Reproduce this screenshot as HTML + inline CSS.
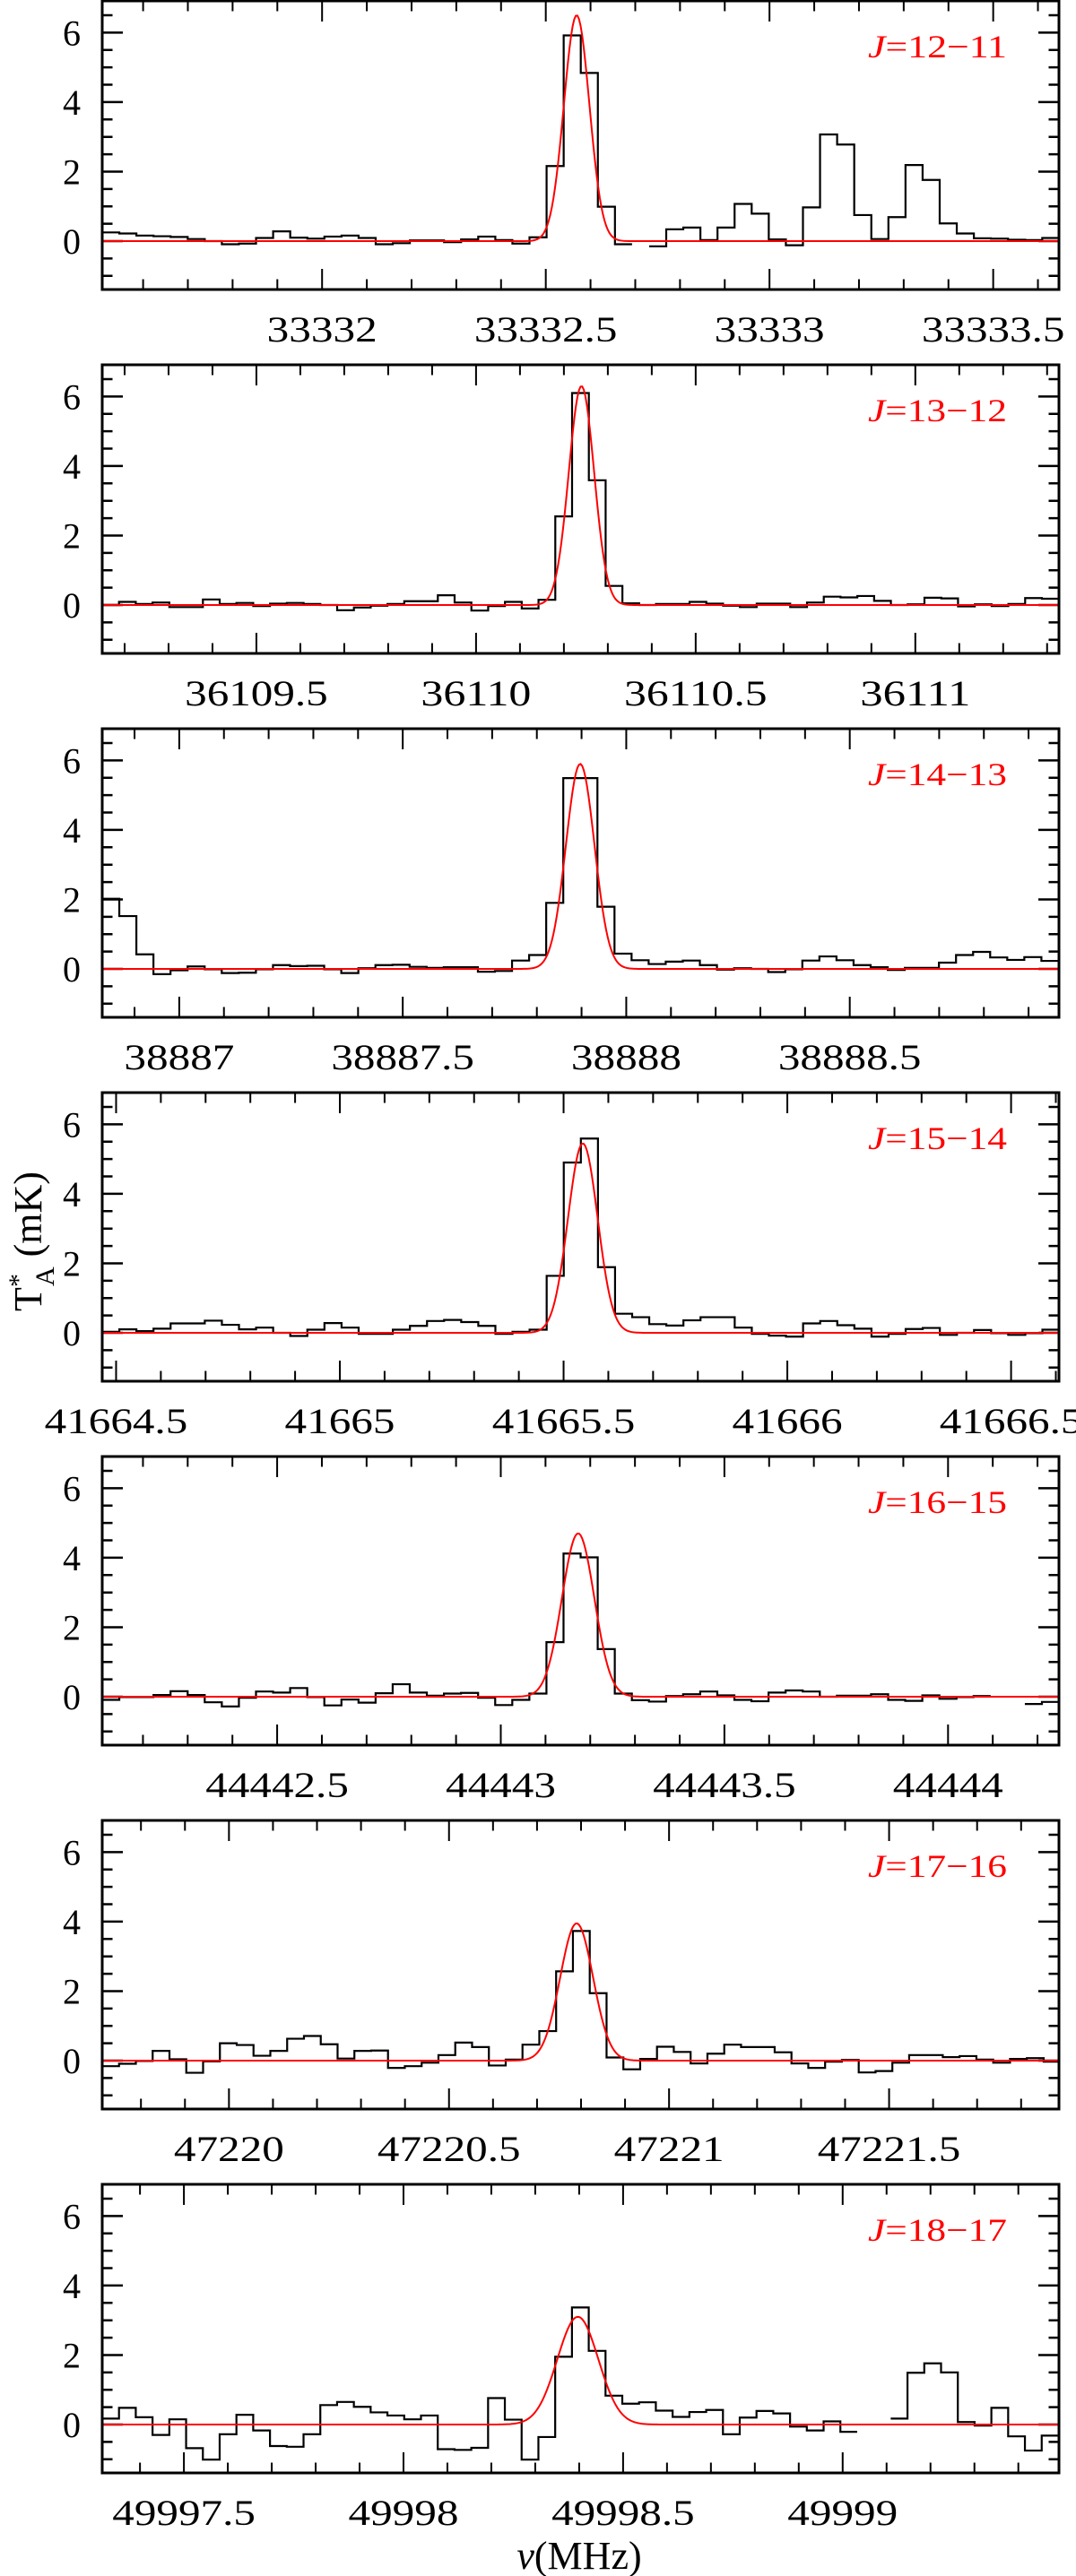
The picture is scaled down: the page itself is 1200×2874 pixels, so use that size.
<!DOCTYPE html>
<html><head><meta charset="utf-8"><title>Spectra J=12-11 … J=18-17</title>
<style>html,body{margin:0;padding:0;background:#fff}svg{display:block}</style>
</head><body>
<svg id="fig" width="1200" height="2874" viewBox="0 0 1200 2874" xmlns="http://www.w3.org/2000/svg" font-family="'Liberation Serif', serif">
<text transform="translate(46,1385) rotate(-90)" text-anchor="middle" font-size="44" fill="#000">T<tspan font-size="30" dy="-16">*</tspan><tspan font-size="30" dx="-14" dy="30">A</tspan><tspan dy="-14"> (mK)</tspan></text>
<text x="646" y="2866" text-anchor="middle" font-size="44" fill="#000"><tspan font-style="italic">ν</tspan>(MHz)</text>
</svg>
<script>
// ---- data (antenna temperature in mK per channel; null = no data) ----
const transitions = ["12−11","13−12","14−13","15−14","16−15","17−16","18−17"];
const xMins = [33331.5086, 36109.149, 38886.8277, 41664.469, 44442.1089, 47219.712, 49997.314];
const xMaxs = [33333.647, 36111.327, 38888.968, 41666.607, 44444.248, 47221.886, 49999.4925];
const channelWidth = 0.0382;
const vals1 = [0.25,0.22,0.16,0.14,0.12,0.06,0.0,-0.09,-0.07,0.09,0.28,0.10,0.07,0.13,0.16,0.09,-0.09,-0.06,0.02,0.02,-0.03,0.05,0.13,0.03,-0.07,0.11,2.16,5.92,4.84,0.99,-0.09,null,-0.15,0.34,0.39,0.03,0.39,1.07,0.79,0.05,-0.12,0.97,3.07,2.78,0.75,0.06,0.69,2.19,1.76,0.51,0.22,0.08,0.07,0.04,0.03,0.09];
const vals2 = [0,0.09,0.03,0.07,-0.06,-0.06,0.16,0.03,0.06,-0.03,0.04,0.06,0.03,0,-0.15,-0.07,-0.02,0.03,0.11,0.11,0.28,0.07,-0.16,-0.03,0.09,-0.10,0.15,2.55,6.10,3.59,0.55,0.05,0,0.03,0.03,0.09,0.04,-0.02,-0.06,0.04,0.04,-0.06,0.07,0.24,0.22,0.26,0.12,0,0.02,0.21,0.19,-0.04,0.02,-0.03,0.03,0.20,0.18];
const vals3 = [2.02,1.52,0.42,-0.15,-0.04,0.07,-0.01,-0.12,-0.11,-0.01,0.11,0.08,0.09,-0.01,-0.12,0.02,0.11,0.12,0.06,0.03,0.05,0.05,-0.08,-0.06,0.24,0.40,1.90,5.49,5.49,1.79,0.44,0.25,0.14,0.21,0.24,0.11,-0.02,0.02,0,-0.09,-0.01,0.24,0.36,0.25,0.11,0.05,-0.03,0.03,0.03,0.18,0.40,0.49,0.33,0.26,0.34,0.23];
const vals4 = [0.03,0.10,0.05,0.12,0.27,0.27,0.35,0.23,0.10,0.15,0,-0.09,0.09,0.28,0.15,-0.03,-0.03,0.09,0.20,0.34,0.37,0.31,0.20,-0.03,0.03,0.09,1.64,4.90,5.59,1.89,0.55,0.45,0.25,0.21,0.36,0.45,0.45,0.15,-0.03,-0.08,-0.11,0.27,0.34,0.22,0.12,-0.11,-0.03,0.11,0.14,-0.06,0,0.08,-0.01,-0.06,-0.01,0.09];
const vals5 = [-0.09,-0.01,-0.01,0.05,0.16,0.05,-0.16,-0.28,-0.03,0.15,0.12,0.25,-0.01,-0.25,-0.08,-0.17,0.10,0.36,0.12,0.03,0.09,0.11,-0.03,-0.24,-0.09,0.09,1.57,4.12,4.01,1.37,0.09,-0.10,-0.14,0.02,0.07,0.15,0.04,-0.09,-0.13,0.12,0.18,0.15,0,0.03,0.03,0.07,-0.09,-0.12,0.04,-0.06,-0.01,0.02,null,null,-0.21,-0.15];
const vals6 = [-0.16,-0.09,-0.01,0.28,0.04,-0.35,-0.02,0.50,0.45,0.14,0.28,0.63,0.71,0.47,0.06,0.28,0.29,-0.21,-0.16,-0.06,0.16,0.52,0.39,-0.14,0.03,0.46,0.85,2.57,3.73,1.94,0.09,-0.25,0.05,0.40,0.25,-0.08,0.20,0.46,0.39,0.39,0.24,-0.08,-0.21,-0.03,0.02,-0.34,-0.30,-0.06,0.16,0.16,0.10,0.13,0.03,-0.06,0.05,0.07,-0.03];
const vals7 = [0.17,0.48,0.21,-0.30,0.15,-0.68,-1.01,-0.28,0.28,-0.17,-0.62,-0.64,-0.28,0.56,0.65,0.51,0.35,0.26,0.15,0.26,-0.71,-0.73,-0.67,0.76,0.14,-1.01,-0.36,1.95,3.37,2.12,0.83,0.60,0.64,0.40,0.22,0.36,0.42,-0.28,0.20,0.39,0.32,-0.06,-0.17,0.09,-0.21,null,null,0.17,1.49,1.76,1.50,0.07,-0.03,0.48,-0.34,-0.75,-0.32];
// gaussian fit parameters
const fitCenters = [33332.569, 36110.240, 38887.897, 41665.543, 44443.173, 47220.790, 49998.397];
const fitPeaks = [6.5, 6.3, 5.9, 5.45, 4.7, 3.95, 3.1];
const fitFwhms = [0.067, 0.068, 0.075, 0.078, 0.085, 0.088, 0.11];
// tick labels
const xTickLabels = [
  ["33332","33332.5","33333","33333.5"],
  ["36109.5","36110","36110.5","36111"],
  ["38887","38887.5","38888","38888.5"],
  ["41664.5","41665","41665.5","41666","41666.5"],
  ["44442.5","44443","44443.5","44444"],
  ["47220","47220.5","47221","47221.5"],
  ["49997.5","49998","49998.5","49999"]
];
const yTickLabels = ["0","2","4","6"];
const allVals = [vals1,vals2,vals3,vals4,vals5,vals6,vals7];

// ---- layout ----
const NS = "http://www.w3.org/2000/svg";
const svg = document.getElementById('fig');
const L = 114, R = 1181, PH = 322, Y0OFF = 268, PXU = 38.77;
function mk(tag, attrs, parent){
  const e = document.createElementNS(NS, tag);
  for (const k in attrs) e.setAttribute(k, attrs[k]);
  (parent||svg).appendChild(e);
  return e;
}
function labelLen(s){let n=0;for(const c of s){n+= (c==='.')?12:24.6;}return n;}

for (let p = 0; p < 7; p++) {
  const top = 1 + 406 * p, bot = top + PH;
  const xmin = xMins[p], xmax = xMaxs[p];
  const xs = f => L + (f - xmin) / (xmax - xmin) * (R - L);
  const ys = v => top + Y0OFF - v * PXU;

  const g = mk('g', {});
  
  

  // y ticks (left & right)
  for (let k = -2; k <= 13; k++) {
    const v = k * 0.5, y = ys(v);
    if (y < top + 2 || y > bot - 2) continue;
    const len = (k % 4 === 0) ? 23 : 11.5;
    const t1 = mk('path', {d:`M${L},${y}h${len}M${R},${y}h${-len}`, stroke:'#000','stroke-width':2.5}, g);
    
    
  }
  // x ticks (bottom & top)
  for (let k = Math.ceil(xmin * 10); k <= Math.floor(xmax * 10); k++) {
    const x = xs(k / 10);
    const len = (k % 5 === 0) ? 23 : 11.5;
    const t2 = mk('path', {d:`M${x},${bot}v${-len}M${x},${top}v${len}`, stroke:'#000','stroke-width':2}, g);
    
    
  }
  // y tick labels
  yTickLabels.forEach(s => {
    const t = mk('text', {x:90, y: ys(+s) + 14, 'text-anchor':'end', 'font-size':40, fill:'#000'}, g);
    t.textContent = s;
    
    
  });
  // x tick labels
  xTickLabels[p].forEach(s => {
    const t = mk('text', {x: xs(+s), y: bot + 58, 'text-anchor':'middle', 'font-size':40, fill:'#000',
      textLength: labelLen(s), lengthAdjust:'spacingAndGlyphs'}, g);
    t.textContent = s;
    
    
  });

  // data histogram
  const vals = allVals[p];
  let d = '', prev = null;
  vals.forEach((v, i) => {
    const x0 = xs(xmin + i * channelWidth), x1 = xs(xmin + (i + 1) * channelWidth);
    if (v === null) { prev = null; return; }
    const y = ys(v);
    if (prev === null) d += `M${x0},${y}`; else d += `L${x0},${y}`;
    d += `H${Math.min(x1, R)}`;
    prev = v;
  });
  const hist = mk('path', {d, fill:'none', stroke:'#000', 'stroke-width':2.2, 'stroke-linejoin':'miter'}, g);
  
  

  // gaussian fit
  let fd = '';
  const N = 600;
  for (let i = 0; i <= N; i++) {
    const f = xmin + (xmax - xmin) * i / N;
    const v = fitPeaks[p] * Math.exp(-4 * Math.LN2 * Math.pow((f - fitCenters[p]) / fitFwhms[p], 2));
    fd += (i ? 'L' : 'M') + xs(f).toFixed(2) + ',' + ys(v).toFixed(2);
  }
  const fit = mk('path', {d: fd, fill:'none', stroke:'#ff0000', 'stroke-width':2}, g);
  
  

  // frame
  const fr = mk('rect', {x:L, y:top, width:R-L, height:PH, fill:'none', stroke:'#000', 'stroke-width':3}, g);
  
  

  // transition label
  const lab = mk('text', {x:1123, y: top + 63, 'text-anchor':'end', 'font-size':36, fill:'#ff0000',
    textLength:155, lengthAdjust:'spacingAndGlyphs'}, g);
  lab.innerHTML = '<tspan font-style="italic">J</tspan>=' + transitions[p];
  
  
}
</script>
</body></html>
